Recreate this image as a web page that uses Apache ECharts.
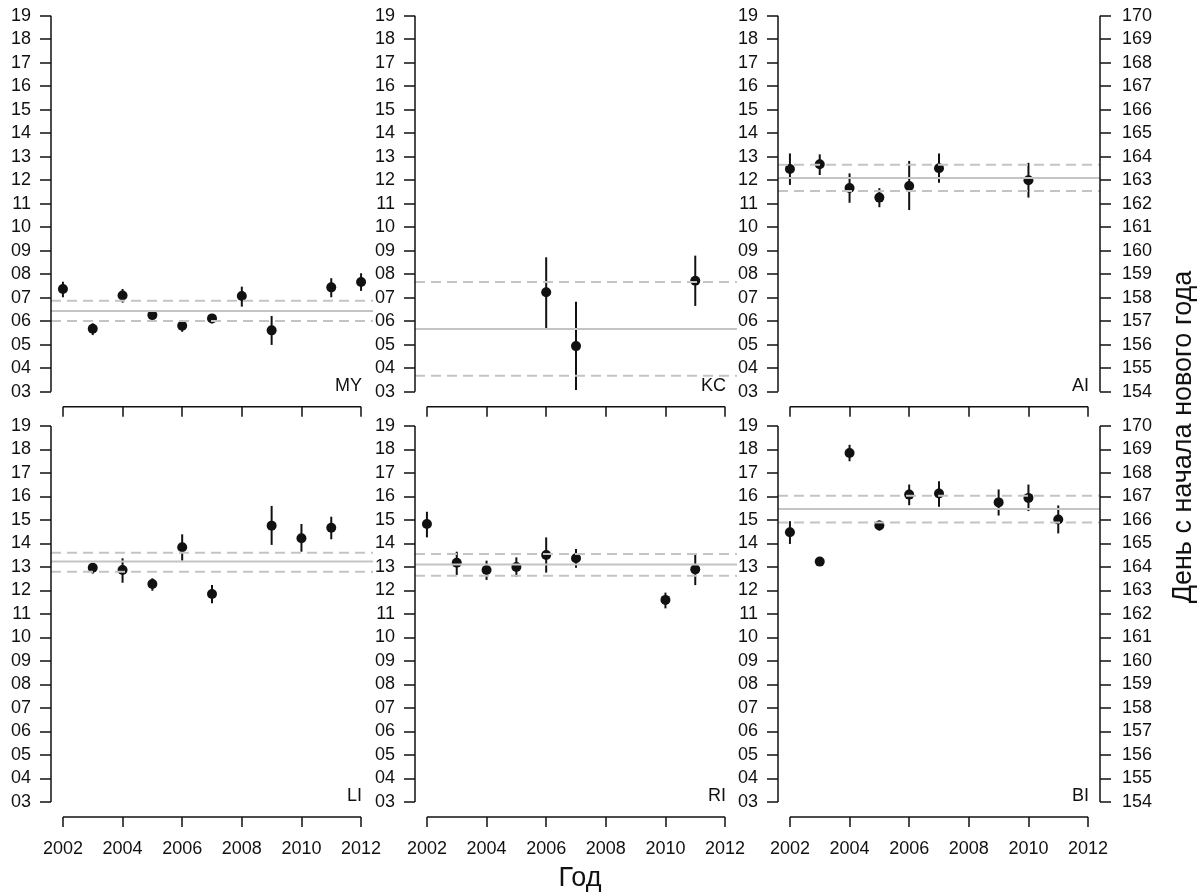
<!DOCTYPE html>
<html>
<head>
<meta charset="utf-8">
<script src="https://cdn.jsdelivr.net/npm/echarts@6/dist/echarts.min.js"></script>
<style>
html,body{margin:0;padding:0;background:#fff;}
#chart{width:1202px;height:893px;}
</style>
</head>
<body>
<div id="chart"></div>
<script>
// ---- tick labels ----
const xTicks = [2002, 2004, 2006, 2008, 2010, 2012];
const yTicks = [3, 4, 5, 6, 7, 8, 9, 10, 11, 12, 13, 14, 15, 16, 17, 18, 19];
const doyTicks = [154, 155, 156, 157, 158, 159, 160, 161, 162, 163, 164, 165, 166, 167, 168, 169, 170];
const xTitle = 'Год';
const yRightTitle = 'День с начала нового года';

// ---- data: day of June (mean, lower, upper) ----
const MY_year = [2002, 2003, 2004, 2005, 2006, 2007, 2008, 2009, 2011, 2012];
const MY_mean = [7.37, 5.68, 7.09, 6.26, 5.81, 6.12, 7.07, 5.61, 7.44, 7.67];
const MY_low  = [7.02, 5.41, 6.79, 6.12, 5.55, 5.91, 6.62, 4.99, 7.02, 7.29];
const MY_high = [7.68, 5.91, 7.37, 6.40, 6.05, 6.26, 7.47, 6.22, 7.83, 8.04];
const MY_lines = [6.43, 6.87, 6.01]; // overall mean, upper, lower

const KC_year = [2006, 2007, 2011];
const KC_mean = [7.23, 4.94, 7.72];
const KC_low  = [5.70, 3.07, 6.65];
const KC_high = [8.72, 6.83, 8.79];
const KC_lines = [5.67, 7.67, 3.68];

const AI_year = [2002, 2003, 2004, 2005, 2006, 2007, 2010];
const AI_mean = [12.48, 12.68, 11.67, 11.26, 11.75, 12.51, 12.00];
const AI_low  = [11.80, 12.22, 11.04, 10.85, 10.73, 11.89, 11.26];
const AI_high = [13.14, 13.10, 12.29, 11.66, 12.82, 13.14, 12.74];
const AI_lines = [12.09, 12.66, 11.54];

const LI_year = [2003, 2004, 2005, 2006, 2007, 2009, 2010, 2011];
const LI_mean = [12.97, 12.87, 12.28, 13.84, 11.85, 14.76, 14.22, 14.67];
const LI_low  = [12.72, 12.33, 11.99, 13.27, 11.46, 13.94, 13.65, 14.18];
const LI_high = [13.13, 13.37, 12.52, 14.39, 12.23, 15.60, 14.83, 15.14];
const LI_lines = [13.23, 13.61, 12.80];

const RI_year = [2002, 2003, 2004, 2005, 2006, 2007, 2010, 2011];
const RI_mean = [14.83, 13.18, 12.87, 13.00, 13.51, 13.37, 11.60, 12.90];
const RI_low  = [14.26, 12.66, 12.45, 12.59, 12.76, 12.97, 11.24, 12.23];
const RI_high = [15.35, 13.65, 13.27, 13.41, 14.26, 13.77, 11.91, 13.58];
const RI_lines = [13.11, 13.55, 12.63];

const BI_year = [2002, 2003, 2004, 2005, 2006, 2007, 2009, 2010, 2011];
const BI_mean = [14.48, 13.23, 17.85, 14.77, 16.08, 16.13, 15.75, 15.94, 15.02];
const BI_low  = [13.98, 13.12, 17.50, 14.55, 15.63, 15.56, 15.19, 15.38, 14.43];
const BI_high = [14.95, 13.35, 18.20, 14.98, 16.51, 16.65, 16.30, 16.51, 15.62];
const BI_lines = [15.47, 16.03, 14.89];

// ---- layout ----
const FONT = '"Liberation Sans", Arial, sans-serif';
const INK = '#111111';
const REF = '#c4c4c4';
const panels = [
  {name: 'MY', year: MY_year, mean: MY_mean, low: MY_low, high: MY_high, lines: MY_lines, col: 0, row: 0},
  {name: 'KC', year: KC_year, mean: KC_mean, low: KC_low, high: KC_high, lines: KC_lines, col: 1, row: 0},
  {name: 'AI', year: AI_year, mean: AI_mean, low: AI_low, high: AI_high, lines: AI_lines, col: 2, row: 0},
  {name: 'LI', year: LI_year, mean: LI_mean, low: LI_low, high: LI_high, lines: LI_lines, col: 0, row: 1},
  {name: 'RI', year: RI_year, mean: RI_mean, low: RI_low, high: RI_high, lines: RI_lines, col: 1, row: 1},
  {name: 'BI', year: BI_year, mean: BI_mean, low: BI_low, high: BI_high, lines: BI_lines, col: 2, row: 1}
];
const gridLeft = [51, 415, 778];
const gridTop = [0.66, 410.96];
const GW = 322, GH = 406.08;
const XMIN = 2001.6, XMAX = 2012.4, YMIN = 2.36, YMAX = 19.64;
const DOY_OFFSET = 151;
const FS = 18;

const grids = [], xAxes = [], yAxes = [], series = [], graphics = [];
const pad2 = v => String(v).padStart(2, '0');

panels.forEach((p, i) => {
  grids.push({left: gridLeft[p.col], top: gridTop[p.row], width: GW, height: GH, containLabel: false});
  xAxes.push({
    type: 'value', gridIndex: i, min: XMIN, max: XMAX,
    axisLine: {show: false},
    splitLine: {show: false},
    axisTick: {show: true, customValues: xTicks, length: 10, lineStyle: {color: INK, width: 1.5}},
    axisLabel: {show: p.row === 1, customValues: xTicks, margin: 23, fontSize: FS, color: INK, fontFamily: FONT, formatter: v => String(v)}
  });
  const yIdx = yAxes.length;
  yAxes.push({
    type: 'value', gridIndex: i, min: YMIN, max: YMAX, position: 'left',
    axisLine: {show: false},
    splitLine: {show: false},
    axisTick: {show: true, customValues: yTicks, length: 11, lineStyle: {color: INK, width: 1.5}},
    axisLabel: {customValues: yTicks, margin: 20, fontSize: FS, color: INK, fontFamily: FONT, formatter: v => pad2(v)}
  });
  if (p.col === 2) {
    yAxes.push({
      type: 'value', gridIndex: i, min: YMIN + DOY_OFFSET, max: YMAX + DOY_OFFSET, position: 'right',
      axisLine: {show: false},
      splitLine: {show: false},
      axisTick: {show: true, customValues: doyTicks, length: 11, lineStyle: {color: INK, width: 1.5}},
      axisLabel: {customValues: doyTicks, margin: 22, fontSize: FS, color: INK, fontFamily: FONT, formatter: v => String(v)}
    });
  }
  const axisLine = (data) => ({
    type: 'line', xAxisIndex: i, yAxisIndex: yIdx, data: data, symbol: 'none', clip: false, silent: true,
    lineStyle: {color: INK, width: 1.5}, z: 10, animation: false
  });
  series.push(axisLine([[xTicks[0], YMIN], [xTicks[xTicks.length - 1], YMIN]]));
  series.push(axisLine([[XMIN, yTicks[0]], [XMIN, yTicks[yTicks.length - 1]]]));
  if (p.col === 2) series.push(axisLine([[XMAX, yTicks[0]], [XMAX, yTicks[yTicks.length - 1]]]));

  // error bars
  series.push({
    type: 'custom', xAxisIndex: i, yAxisIndex: yIdx, z: 2, silent: true, animation: false,
    data: p.year.map((y, k) => [y, p.low[k], p.high[k]]),
    encode: {x: 0, y: [1, 2]},
    renderItem: (params, api) => {
      const x = api.value(0);
      const a = api.coord([x, api.value(1)]);
      const b = api.coord([x, api.value(2)]);
      return {type: 'line', shape: {x1: a[0], y1: a[1], x2: b[0], y2: b[1]}, style: {stroke: INK, lineWidth: 2}};
    }
  });
  // points
  series.push({
    type: 'scatter', xAxisIndex: i, yAxisIndex: yIdx, z: 3, silent: true, animation: false,
    symbol: 'circle', symbolSize: 10, itemStyle: {color: INK, opacity: 1},
    data: p.year.map((y, k) => [y, p.mean[k]])
  });
  // reference lines
  p.lines.forEach((v, k) => {
    series.push({
      type: 'line', xAxisIndex: i, yAxisIndex: yIdx, z: 4, silent: true, animation: false, symbol: 'none',
      data: [[XMIN, v], [XMAX, v]],
      lineStyle: {color: REF, width: 2, type: k === 0 ? 'solid' : [10, 6]}
    });
  });
  // panel label
  graphics.push({
    type: 'text', x: gridLeft[p.col] + GW - 11, y: gridTop[p.row] + 385,
    style: {text: p.name, fontSize: FS, fill: INK, fontFamily: FONT, align: 'right', verticalAlign: 'middle'}
  });
});

graphics.push({
  type: 'text', x: 580, y: 879,
  style: {text: xTitle, fontSize: 27, fill: INK, fontFamily: FONT, align: 'center', verticalAlign: 'middle'}
});
graphics.push({
  type: 'text', x: 1184, y: 437, rotation: Math.PI / 2,
  style: {text: yRightTitle, fontSize: 27, fill: INK, fontFamily: FONT, align: 'center', verticalAlign: 'middle'}
});

const chart = echarts.init(document.getElementById('chart'), null, {renderer: 'canvas'});
chart.setOption({
  backgroundColor: '#ffffff',
  animation: false,
  grid: grids,
  xAxis: xAxes,
  yAxis: yAxes,
  series: series,
  graphic: graphics
});
</script>
</body>
</html>
